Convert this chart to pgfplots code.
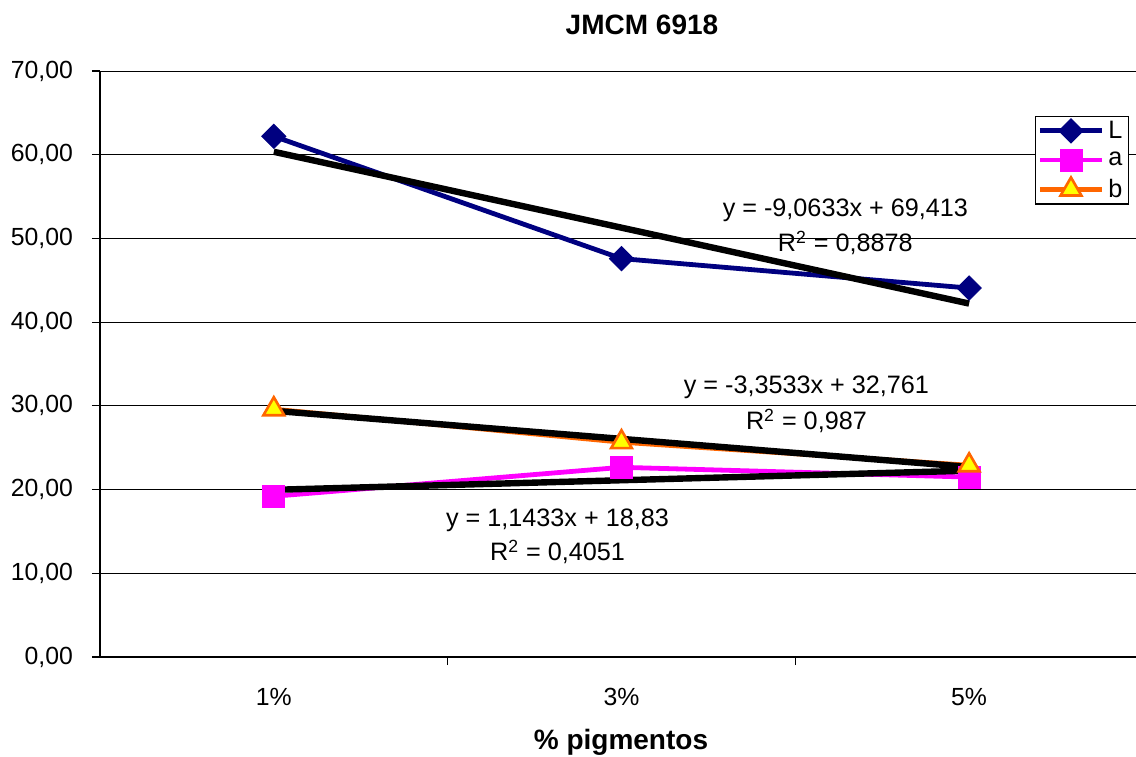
\documentclass[border=0pt]{standalone}
\usepackage{fontspec}
\setmainfont{Liberation Sans}
\usepackage{pgfplots}
\pgfplotsset{compat=1.18}
\definecolor{Lnavy}{RGB}{0,0,128}
\definecolor{amag}{RGB}{255,0,255}
\definecolor{borange}{RGB}{255,102,0}
\definecolor{byellow}{RGB}{255,255,0}
\begin{document}
\begin{tikzpicture}
\begin{axis}[
  at={(0,0)}, anchor=south west,
  scale only axis, width=518pt, height=293pt,
  xmin=0.5, xmax=3.48, ymin=0, ymax=70,
  axis lines*=left,
  axis line style={black, line width=0.7pt},
  /pgf/number format/assume math mode=true,
  xtick={1,2,3}, xticklabels={1\%,3\%,5\%},
  minor xtick={1.5,2.5,3.5},
  major x tick style={draw=none},
  minor tick style={black, line width=0.6pt},
  minor tick length=4pt,
  ytick={0,10,...,70},
  major tick length=4pt,
  tick align=outside,
  y tick style={black, line width=0.6pt},
  ymajorgrids, grid style={black, line width=0.5pt},
  yticklabel style={xshift=-6pt, /pgf/number format/.cd, fixed, fixed zerofill, precision=2, use comma, 1000 sep={}},
  tick label style={font=\fontsize{12.4}{14}\selectfont, black},
  xticklabel style={yshift=-8pt},
  legend style={at={(rel axis cs:0.9025,0.923)}, anchor=north west,
    draw=black, line width=0.6pt, fill=white, font=\fontsize{12.6}{14}\selectfont,
    inner xsep=1pt, inner ysep=0pt, row sep=1.3pt, cells={anchor=west}},
  legend image code/.code={\draw[mark repeat=2,mark phase=2,#1] plot coordinates {(0pt,0pt) (15.5pt,0pt) (31pt,0pt)};},
]
\addplot[Lnavy, line width=2.4pt, mark=square*, mark size=4.3pt, mark options={solid, rotate=45, fill=Lnavy, draw=Lnavy, line width=0.4pt}]
  coordinates {(1,62.20) (2,47.59) (3,44.07)};
\addlegendentry{L}
\addplot[amag, line width=2.4pt, mark=square*, mark size=5.5pt, mark options={solid, fill=amag, draw=amag, line width=0.4pt}]
  coordinates {(1,19.20) (2,22.66) (3,21.49)};
\addlegendentry{a}
\addplot[borange, line width=2.4pt, mark=triangle*, mark size=6pt, mark options={solid, fill=byellow, draw=borange, line width=1.3pt}]
  coordinates {(1,29.60) (2,25.66) (3,22.90)};
\addlegendentry{b}
\addplot[black, line width=3.2pt, forget plot] coordinates {(1,60.35) (3,42.22)};
\addplot[black, line width=3.2pt, forget plot] coordinates {(1,19.97) (3,22.26)};
\addplot[black, line width=3.2pt, forget plot] coordinates {(1,29.41) (3,22.70)};
\node[font=\fontsize{12.6}{14}\selectfont] at (axis cs:2.644,53.40) {y = -9,0633x + 69,413};
\node[font=\fontsize{12.6}{14}\selectfont] at (axis cs:2.644,49.46) {R\textsuperscript{2} = 0,8878};
\node[font=\fontsize{12.6}{14}\selectfont] at (axis cs:2.532,32.25) {y = -3,3533x + 32,761};
\node[font=\fontsize{12.6}{14}\selectfont] at (axis cs:2.532,28.19) {R\textsuperscript{2} = 0,987};
\node[font=\fontsize{12.6}{14}\selectfont] at (axis cs:1.816,16.37) {y = 1,1433x + 18,83};
\node[font=\fontsize{12.6}{14}\selectfont] at (axis cs:1.816,12.54) {R\textsuperscript{2} = 0,4051};
\end{axis}
\node[font=\bfseries\fontsize{14}{16}\selectfont] at (271pt,316pt) {JMCM 6918};
\node[font=\bfseries\fontsize{14}{16}\selectfont] at (260.5pt,-42.5pt) {\% pigmentos};
\pgfresetboundingbox
\path[use as bounding box] (-50pt,-49.5pt) rectangle (518pt,328.5pt);
\end{tikzpicture}
\end{document}
